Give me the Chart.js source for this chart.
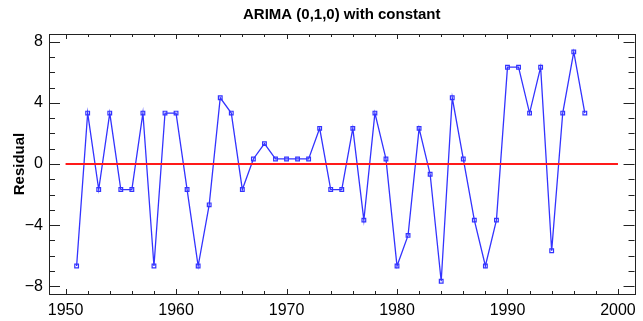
<!DOCTYPE html>
<html lang="en">
<head>
    <meta charset="UTF-8">
    <title>ARIMA residuals</title>
    <style>
        html, body { margin: 0; padding: 0; background: #fff; }
        .wrap { width: 643px; height: 321px; }
    </style>
</head>
<body>

<div class="wrap">
    <canvas id="residChart" width="643" height="321"></canvas>
</div>

<script src="https://cdn.jsdelivr.net/npm/chart.js"></script>
<script>
    // data
    const years = [1951, 1952, 1953, 1954, 1955, 1956, 1957, 1958, 1959, 1960,
                   1961, 1962, 1963, 1964, 1965, 1966, 1967, 1968, 1969, 1970,
                   1971, 1972, 1973, 1974, 1975, 1976, 1977, 1978, 1979, 1980,
                   1981, 1982, 1983, 1984, 1985, 1986, 1987, 1988, 1989, 1990,
                   1991, 1992, 1993, 1994, 1995, 1996, 1997];
    const residuals = [-6.67, 3.33, -1.67, 3.33, -1.67, -1.67, 3.33, -6.67, 3.33, 3.33,
                       -1.67, -6.67, -2.67, 4.33, 3.33, -1.67, 0.33, 1.33, 0.33, 0.33,
                       0.33, 0.33, 2.33, -1.67, -1.67, 2.33, -3.67, 3.33, 0.33, -6.67,
                       -4.67, 2.33, -0.67, -7.67, 4.33, 0.33, -3.67, -6.67, -3.67, 6.33,
                       6.33, 3.33, 6.33, -5.67, 3.33, 7.33, 3.33];
    const zeroLineYears = [1950, 2000];
    const xTickValues = [1950, 1960, 1970, 1980, 1990, 2000];
    const yTickValues = [-8, -4, 0, 4, 8];

    const sans = '"Liberation Sans", Arial, Helvetica, sans-serif';

    // inward tick marks on all four sides plus the box
    const frameTicks = {
        id: 'frameTicks',
        afterDraw(chart) {
            const ctx = chart.ctx;
            const a = chart.chartArea;
            const xs = chart.scales.x, ys = chart.scales.y;
            ctx.save();
            ctx.strokeStyle = '#222';
            ctx.lineWidth = 1;
            ctx.beginPath();
            for (let v = 1950; v <= 2000; v += 2) {
                const px = Math.round(xs.getPixelForValue(v)) + 0.5;
                const len = v % 10 === 0 ? 5 : 3;
                ctx.moveTo(px, a.bottom); ctx.lineTo(px, a.bottom - len);
                ctx.moveTo(px, a.top); ctx.lineTo(px, a.top + len);
            }
            for (let v = -8; v <= 8; v += 1) {
                const py = Math.round(ys.getPixelForValue(v)) + 0.5;
                const len = v % 4 === 0 ? 11 : 6;
                ctx.moveTo(a.left, py); ctx.lineTo(a.left + len, py);
                ctx.moveTo(a.right, py); ctx.lineTo(a.right - len, py);
            }
            ctx.stroke();
            ctx.strokeRect(Math.round(a.left) + 0.5, Math.round(a.top) + 0.5,
                           Math.round(a.right - a.left), Math.round(a.bottom - a.top));
            ctx.restore();
        }
    };

    new Chart(document.getElementById('residChart').getContext('2d'), {
        type: 'line',
        data: {
            datasets: [{
                label: 'zero',
                data: zeroLineYears.map(y => ({ x: y, y: 0 })),
                borderColor: '#ff1a1a',
                borderWidth: 2,
                pointRadius: 0
            }, {
                label: 'Residual',
                data: years.map((y, i) => ({ x: y, y: residuals[i] })),
                borderColor: '#3333ff',
                borderWidth: 1.3,
                pointStyle: 'rect',
                pointRadius: 2.6,
                pointBorderWidth: 1.2,
                pointBorderColor: '#3333ff',
                pointBackgroundColor: 'rgba(255,255,255,0)',
                tension: 0
            }]
        },
        options: {
            responsive: false,
            animation: false,
            layout: { padding: { left: 0, right: 2, top: 0, bottom: 0 } },
            plugins: {
                legend: { display: false },
                tooltip: { enabled: false },
                title: {
                    display: true,
                    text: 'ARIMA (0,1,0) with constant',
                    fullSize: false,
                    color: '#000',
                    font: { family: sans, size: 15, weight: 'bold', lineHeight: 1.2 },
                    padding: { top: 6, bottom: 10 }
                }
            },
            scales: {
                x: {
                    type: 'linear',
                    min: 1948.5,
                    max: 2001.5,
                    afterBuildTicks: s => { s.ticks = xTickValues.map(v => ({ value: v })); },
                    afterFit: s => { s.height = 27; },
                    grid: { display: false, drawTicks: false },
                    border: { display: false },
                    ticks: {
                        color: '#000',
                        padding: 7,
                        maxRotation: 0,
                        font: { family: sans, size: 16 },
                        callback: v => String(v)
                    }
                },
                y: {
                    min: -8.5,
                    max: 8.5,
                    afterBuildTicks: s => { s.ticks = yTickValues.map(v => ({ value: v })); },
                    afterFit: s => { s.width = 49; },
                    grid: { display: false, drawTicks: false },
                    border: { display: false },
                    title: {
                        display: true,
                        text: 'Residual',
                        color: '#000',
                        font: { family: sans, size: 15, weight: 'bold', lineHeight: 1.2 },
                        padding: { top: 11, bottom: 0 }
                    },
                    ticks: {
                        color: '#000',
                        padding: 6,
                        font: { family: sans, size: 16 },
                        callback: v => String(v).replace('-', '\u2212')
                    }
                }
            }
        },
        plugins: [frameTicks]
    });
</script>
</body>
</html>
